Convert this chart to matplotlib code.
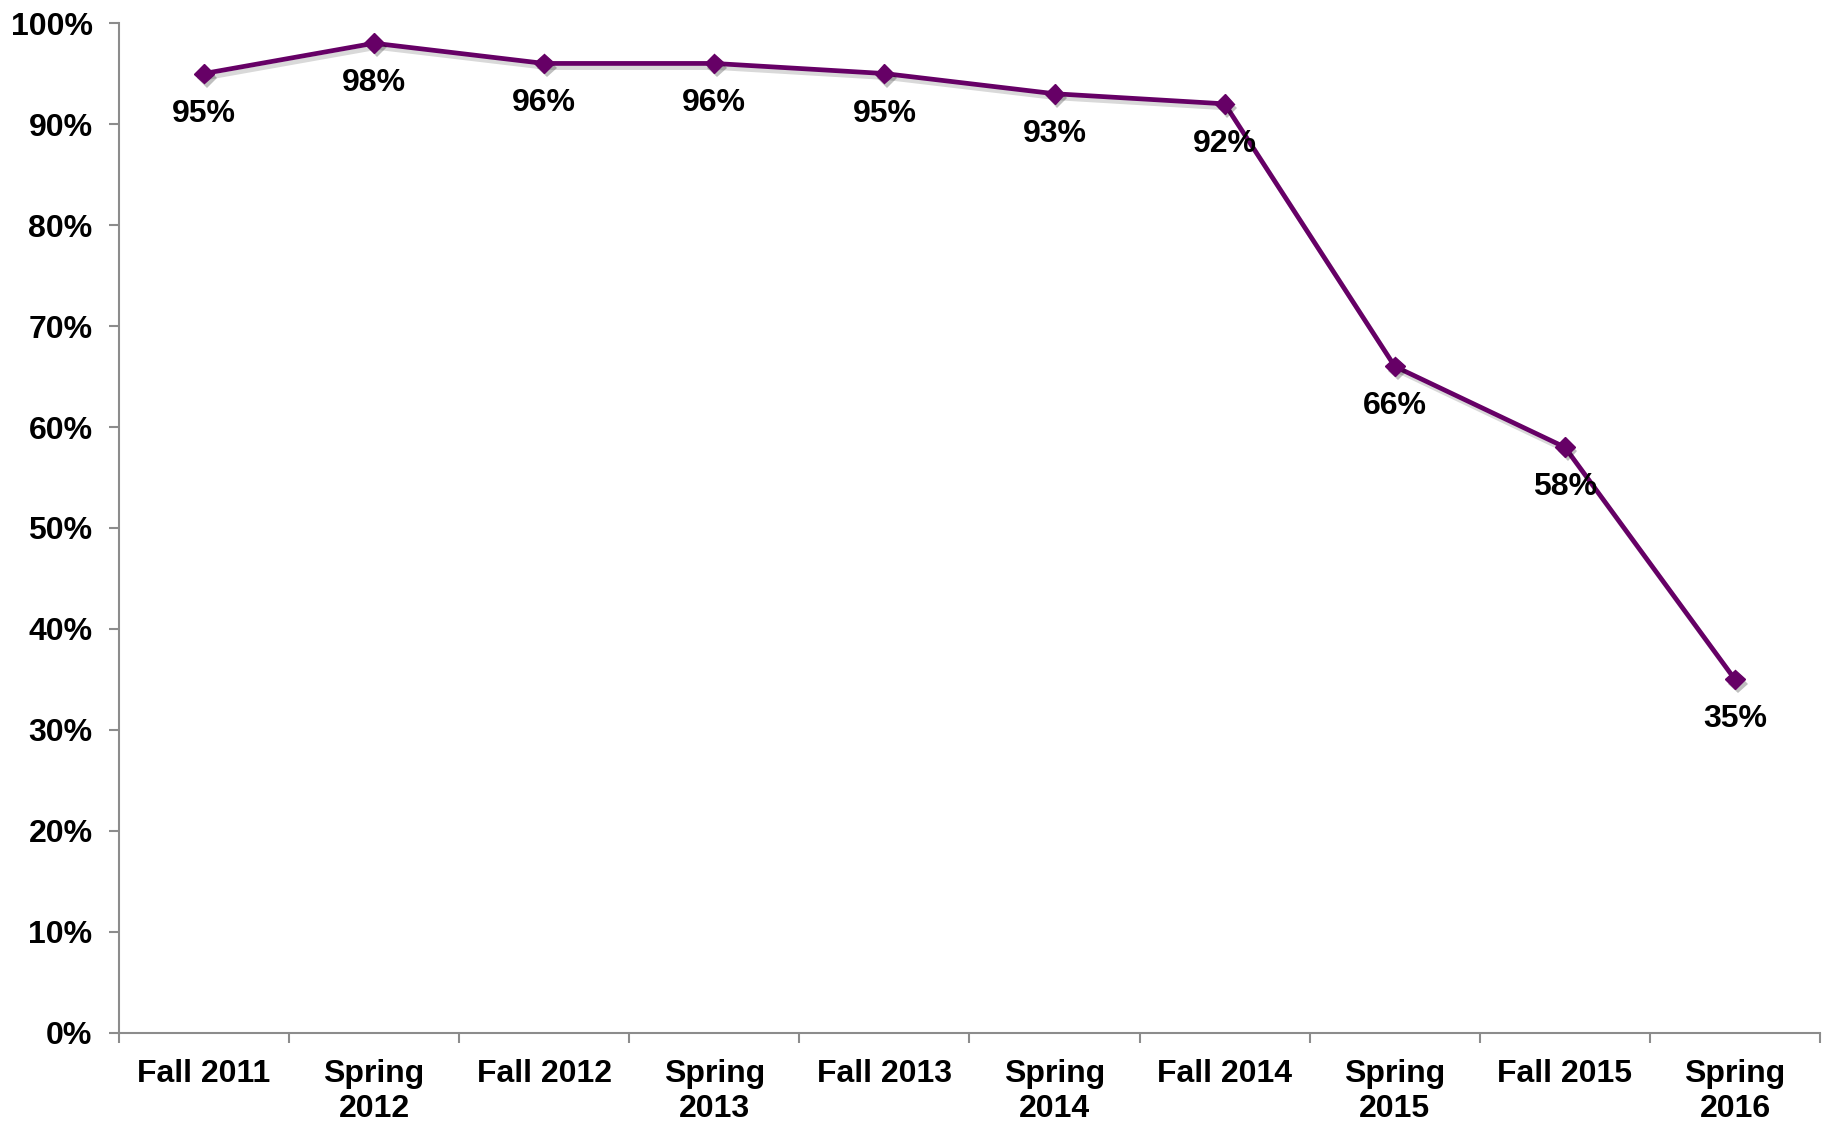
import matplotlib
matplotlib.use("Agg")
import matplotlib.pyplot as plt
import matplotlib.patheffects as pe
from matplotlib.ticker import FixedLocator, PercentFormatter

plt.rcParams['font.family'] = ['Liberation Sans', 'DejaVu Sans']

terms = ["Fall 2011", "Spring\n2012", "Fall 2012", "Spring\n2013", "Fall 2013",
         "Spring\n2014", "Fall 2014", "Spring\n2015", "Fall 2015", "Spring\n2016"]
rates = [95, 98, 96, 96, 95, 93, 92, 66, 58, 35]
y_ticks = [0, 10, 20, 30, 40, 50, 60, 70, 80, 90, 100]

purple = "#660066"
axis_gray = "#8c8c8c"
label_size = 23

fig = plt.figure(figsize=(18.27, 11.24), dpi=100)
ax = fig.add_axes([0.0651, 0.081, 0.9311, 0.8985])

x = list(range(len(terms)))

# line with a soft drop shadow
ax.plot(x, rates, color=purple, linewidth=3.4, solid_joinstyle="round",
        path_effects=[pe.SimpleLineShadow(offset=(2, -3), shadow_color="black", alpha=0.15),
                      pe.Normal()], zorder=3)
# diamond markers with their own shadow
ax.plot(x, rates, linestyle="none", marker="D", markersize=10,
        markerfacecolor=purple, markeredgecolor=purple,
        path_effects=[pe.SimplePatchShadow(offset=(2, -3), shadow_rgbFace="black", alpha=0.25),
                      pe.Normal()], zorder=4)

for xi, v in zip(x, rates):
    ax.annotate(f"{v}%", (xi, v), xytext=(0, -40), textcoords="offset pixels",
                ha="center", va="center", fontsize=label_size, fontweight="bold",
                color="black", zorder=5)

ax.set_xlim(-0.5, len(terms) - 0.5)
ax.set_ylim(0, 100)

ax.yaxis.set_major_locator(FixedLocator(y_ticks))
ax.yaxis.set_major_formatter(PercentFormatter(decimals=0))

# category boundaries carry the tick marks; labels sit at category centres
ax.xaxis.set_major_locator(FixedLocator([i - 0.5 for i in range(len(terms) + 1)]))
ax.xaxis.set_major_formatter(plt.NullFormatter())
ax.xaxis.set_minor_locator(FixedLocator(x))
ax.set_xticklabels(terms, minor=True)

ax.tick_params(axis="x", which="major", direction="out", length=7, width=1.5, color=axis_gray)
ax.tick_params(axis="x", which="minor", length=0, pad=19, labelsize=label_size)
ax.tick_params(axis="y", which="major", direction="out", length=7, width=1.5, color=axis_gray,
               pad=12, labelsize=label_size)
for lbl in ax.get_xticklabels(minor=True) + ax.get_yticklabels():
    lbl.set_fontweight("bold")
    lbl.set_linespacing(1.22)

for side in ("top", "right"):
    ax.spines[side].set_visible(False)
for side in ("left", "bottom"):
    ax.spines[side].set_color(axis_gray)
    ax.spines[side].set_linewidth(1.5)

fig.savefig("out.png", dpi=100, facecolor="white")
